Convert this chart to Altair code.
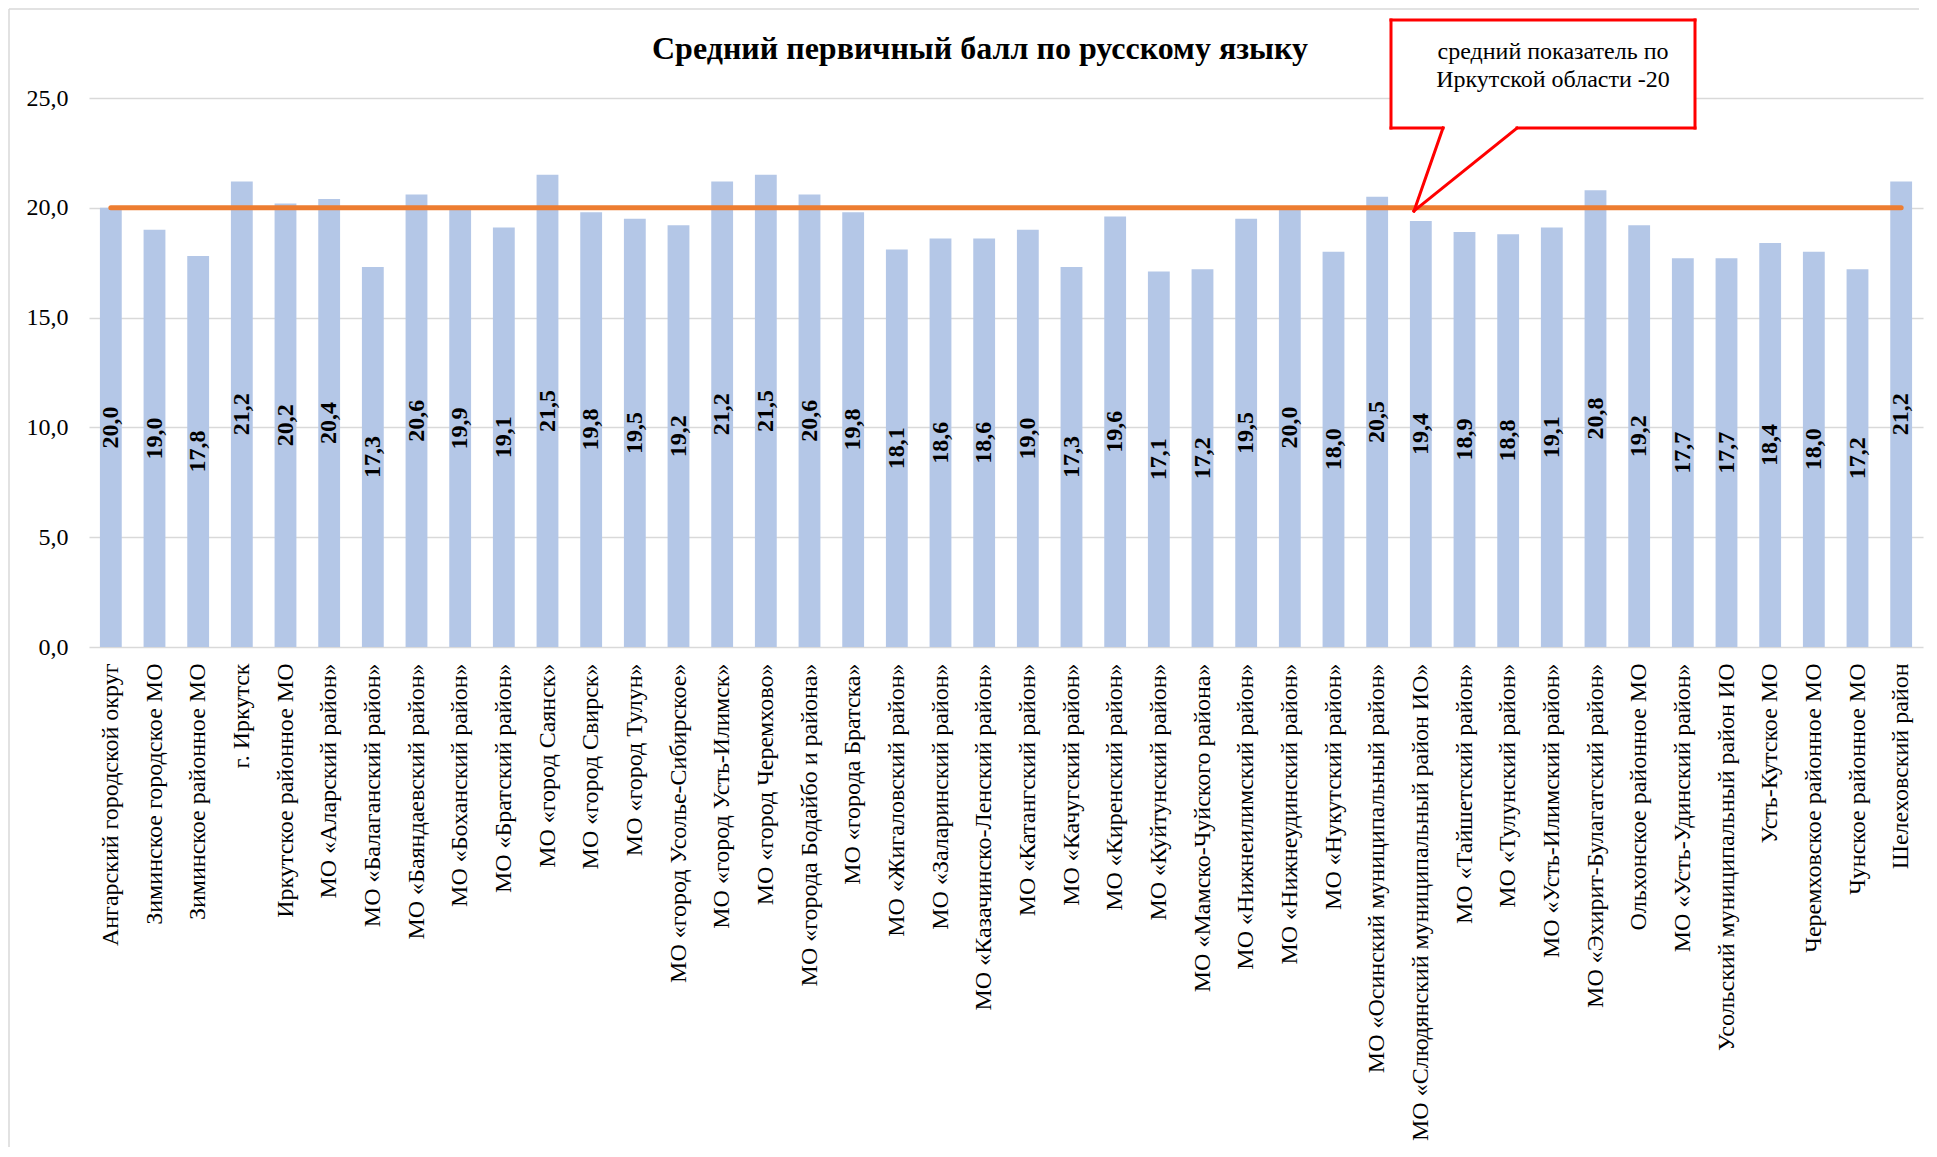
import altair as alt
import pandas as pd

# ---------------- data ----------------
categories = [
    "Ангарский городской округ",
    "Зиминское городское МО",
    "Зиминское районное МО",
    "г. Иркутск",
    "Иркутское районное МО",
    "МО «Аларский район»",
    "МО «Балаганский район»",
    "МО «Баяндаевский район»",
    "МО «Боханский район»",
    "МО «Братский район»",
    "МО «город Саянск»",
    "МО «город Свирск»",
    "МО «город Тулун»",
    "МО «город Усолье-Сибирское»",
    "МО «город Усть-Илимск»",
    "МО «город Черемхово»",
    "МО «города Бодайбо и района»",
    "МО «города Братска»",
    "МО «Жигаловский район»",
    "МО «Заларинский район»",
    "МО «Казачинско-Ленский район»",
    "МО «Катангский район»",
    "МО «Качугский район»",
    "МО «Киренский район»",
    "МО «Куйтунский район»",
    "МО «Мамско-Чуйского района»",
    "МО «Нижнеилимский район»",
    "МО «Нижнеудинский район»",
    "МО «Нукутский район»",
    "МО «Осинский муниципальный район»",
    "МО «Слюдянский муниципальный район ИО»",
    "МО «Тайшетский район»",
    "МО «Тулунский район»",
    "МО «Усть-Илимский район»",
    "МО «Эхирит-Булагатский район»",
    "Ольхонское районное МО",
    "МО «Усть-Удинский район»",
    "Усольский муниципальный район ИО",
    "Усть-Кутское МО",
    "Черемховское районное МО",
    "Чунское районное МО",
    "Шелеховский район",
]
values = [
    20.0, 19.0, 17.8, 21.2, 20.2, 20.4, 17.3, 20.6, 19.9, 19.1,
    21.5, 19.8, 19.5, 19.2, 21.2, 21.5, 20.6, 19.8, 18.1, 18.6,
    18.6, 19.0, 17.3, 19.6, 17.1, 17.2, 19.5, 20.0, 18.0, 20.5,
    19.4, 18.9, 18.8, 19.1, 20.8, 19.2, 17.7, 17.7, 18.4, 18.0,
    17.2, 21.2,
]
regional_avg = 20.0
y_ticks = [0, 5, 10, 15, 20, 25]
title_text = "Средний первичный балл по русскому языку"
callout_lines = ["средний показатель по", "Иркутской области -20"]

df = pd.DataFrame({
    "cat": categories,
    "val": values,
    "avg": [regional_avg] * len(categories),
})
df["label"] = [f"{v:.1f}".replace(".", ",") for v in values]

# ---------------- layout ----------------
W, H = 1834, 549
PAD = {"left": 81, "top": 90, "right": 4, "bottom": 500}
FONT = "Liberation Serif"
GRID = "#D9D9D9"

x_enc = alt.X(
    "cat:N",
    sort=categories,
    scale=alt.Scale(paddingInner=0.5, paddingOuter=0.25),
    axis=alt.Axis(
        title=None, labelAngle=270, labelFontSize=24, labelFont=FONT,
        labelColor="#000000", labelPadding=16, labelLimit=700,
        ticks=False, domain=False, grid=False,
    ),
)
y_scale = alt.Scale(domain=[0, 25], nice=False, zero=True)
y_axis = alt.Axis(
    title=None, values=y_ticks,
    labelExpr="replace(format(datum.value, '.1f'), '.', ',')",
    labelFontSize=24, labelFont=FONT, labelColor="#000000", labelPadding=21,
    ticks=False, domain=False, grid=True, gridColor=GRID, gridWidth=1.5,
)

base = alt.Chart(df)

bars = base.mark_bar(color="#B4C7E7").encode(
    x=x_enc,
    y=alt.Y("val:Q", scale=y_scale, axis=y_axis),
)

avg_line = base.mark_line(color="#ED7D31", strokeWidth=5, strokeCap="round").encode(
    x=alt.X("cat:N", sort=categories),
    y=alt.Y("avg:Q"),
)

bar_labels = base.transform_calculate(mid="datum.val / 2").mark_text(
    angle=270, font=FONT, fontSize=24, fontWeight="bold", color="#000000",
    align="center", baseline="middle",
).encode(
    x=alt.X("cat:N", sort=categories),
    y=alt.Y("mid:Q"),
    text="label:N",
)

one = alt.Chart(pd.DataFrame({"d": [0]}))

title = one.mark_text(
    text=title_text, font=FONT, fontSize=32, fontWeight="bold",
    color="#000000", align="center", baseline="alphabetic",
).encode(x=alt.value(891), y=alt.value(-39))

# chart-area frame (left and top)
frame_left = one.mark_rule(color=GRID, strokeWidth=1.5).encode(
    x=alt.value(-80), y=alt.value(-89), y2=alt.value(1049))
frame_top = one.mark_rule(color=GRID, strokeWidth=1.5).encode(
    x=alt.value(-80), x2=alt.value(1830), y=alt.value(-89))

# callout box
BX0, BX1, BY0, BY1 = 1302, 1606, -78, 30
PX0, PX1 = 1354, 1428
TIPX, TIPY = 1325, 113

box_fill = one.mark_rect(color="#FFFFFF").encode(
    x=alt.value(BX0), x2=alt.value(BX1), y=alt.value(BY0), y2=alt.value(BY1))

segments = [
    (BX0, BY0, BX1, BY0),
    (BX0, BY0, BX0, BY1),
    (BX1, BY0, BX1, BY1),
    (BX0, BY1, PX0, BY1),
    (PX1, BY1, BX1, BY1),
    (PX0, BY1, TIPX, TIPY),
    (PX1, BY1, TIPX, TIPY),
]
seg_layers = [
    one.mark_rule(color="#FF0000", strokeWidth=3, strokeCap="square").encode(
        x=alt.value(a), y=alt.value(b), x2=alt.value(c), y2=alt.value(d))
    for (a, b, c, d) in segments
]

callout_text = [
    one.mark_text(
        text=t, font=FONT, fontSize=24, color="#000000",
        align="center", baseline="middle",
    ).encode(x=alt.value(1464), y=alt.value(yy))
    for t, yy in zip(callout_lines, [-46, -18])
]

chart = alt.layer(
    bars, avg_line, bar_labels, title, frame_left, frame_top, box_fill,
    *seg_layers, *callout_text,
).properties(
    width=W, height=H, padding=PAD,
    autosize=alt.AutoSizeParams(type="none"),
).configure_view(strokeWidth=0)

chart.save("out.html", embed_options={"renderer": "svg", "actions": False})
